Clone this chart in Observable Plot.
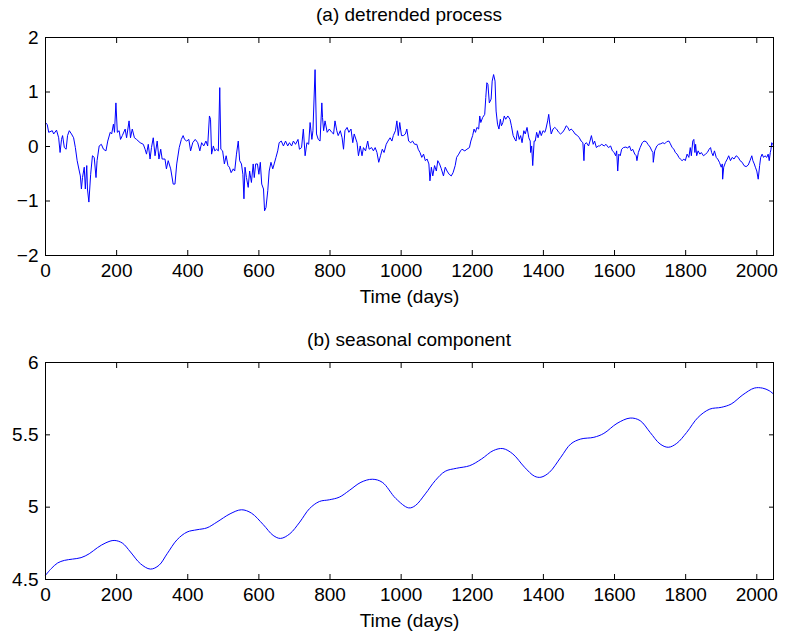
<!DOCTYPE html>
<html>
<head>
<meta charset="utf-8">
<script src="https://cdn.jsdelivr.net/npm/d3@7"></script>
<script src="https://cdn.jsdelivr.net/npm/@observablehq/plot@0.6"></script>
<style>
  html, body { margin: 0; padding: 0; background: #fff; }
  #wrap { position: relative; width: 785px; height: 638px; font-family: "Liberation Sans", Arial, sans-serif; color: #000; }
  .ttl { position: absolute; left: 45px; width: 728px; text-align: center; font-size: 19px; line-height: 22px; }
  .pn { position: absolute; left: 0; }
</style>
</head>
<body>
<div id="wrap">
  <div class="ttl" id="t1" style="top:4px"></div>
  <div class="pn" id="p1" style="top:27px"></div>
  <div class="ttl" id="t2" style="top:329px"></div>
  <div class="pn" id="p2" style="top:352px"></div>
</div>
<script>
// ---- data ----
const xTicks = [0, 200, 400, 600, 800, 1000, 1200, 1400, 1600, 1800, 2000];
const xLabel = "Time (days)";
const topTitle = "(a) detrended process";
const bottomTitle = "(b) seasonal component";
const topYTicks = [-2, -1, 0, 1, 2];
const bottomYTicks = [4.5, 5, 5.5, 6];
const bottomYTickLabels = ["4.5", "5", "5.5", "6"];

const topDays = [
0,5,9,19,23,31,37,41,45,48,53,58,62,67,73,79,84,89,95,98,101,104,109,112,116,118,122,127,132,137,142,145,151,157,163,170,175,182,186,191,194,198,202,207,211,216,224,228,235,239,244,250,256,266,275,280,284,289,294,298,303,308,314,319,324,328,336,340,345,352,359,364,369,376,382,
387,391,397,403,408,414,421,428,434,439,445,451,456,461,464,467,472,476,481,486,490,493,498,503,508,513,517,522,528,532,537,542,546,551,555,558,561,565,570,574,579,584,587,591,596,600,604,608,613,616,620,625,629,634,639,643,648,653,657,663,669,675,681,686,692,697,703,710,714,720,725,730,735,740,744,749,752,758,762,767,772,777,779,
782,786,792,798,805,810,814,819,823,829,834,838,842,848,853,859,864,868,876,880,885,890,894,900,906,910,917,922,927,932,937,942,947,952,958,963,969,974,978,984,988,992,996,1001,1006,1012,1016,1021,1027,1032,1038,1044,1048,1053,1058,1063,1068,1073,1078,1081,1085,1089,1094,1099,1103,1108,1113,1119,1124,1129,1135,1141,1146,1152,1156,1162,
1167,1171,1179,1185,1192,1196,1201,1205,1209,1213,1218,1221,1224,1229,1235,1238,1241,1244,1248,1253,1256,1260,1264,1267,1271,1275,1279,1282,1286,1290,1294,1300,1306,1310,1315,1320,1323,1327,1332,1336,1340,1345,1349,1354,1359,1363,1364,1367,1370,1374,1377,1381,1385,1390,1394,1399,1404,1407,1412,1415,1418,1422,1427,1432,1437,1443,1448,1454,1460,1464,1469,1473,1478,1483,1489,1496,1501,1506,1511,1514,1516,1521,1527,1531,1535,1540,1544,1549,
1554,1558,1564,1571,1576,1583,1589,1594,1599,1603,1606,1609,1612,1616,1620,1625,1632,1637,1642,1647,1651,1657,1661,1663,1667,1672,1678,1683,1689,1694,1700,1705,1708,1709,1713,1719,1724,1730,1736,1741,1747,1753,1757,1762,1767,1771,1776,1781,1785,1790,1795,1799,1804,1809,1813,1816,1820,1823,1826,1828,1831,1835,1840,1844,1850,1856,1861,1866,1870,1873,1877,1881,1886,1890,1895,1900,1903,1904,1907,1912,1917,1921,1926,1931,1936,1942,1948,1953,1959,1964,1970,1976,1981,1986,1989,1993,1996,2000,2004,2008,2011,2015,2019,2023,2028,2032,2035,2038,2040,2042,2045,2047
];
const topValues = [
0.44,0.40,0.26,0.29,0.23,0.30,0.16,-0.11,0.13,0.20,-0.02,-0.05,0.20,0.29,0.23,0.16,-0.02,-0.26,-0.45,-0.54,-0.78,-0.57,-0.38,-0.78,-0.35,-0.78,-1.02,-0.51,-0.17,-0.20,-0.57,-0.26,0.01,0.04,-0.05,-0.08,0.10,0.26,0.23,0.41,0.26,0.80,0.26,0.29,0.13,0.20,0.32,0.16,0.47,0.16,0.32,0.16,0.13,0.07,0.04,-0.05,-0.14,0.04,-0.23,-0.02,0.16,-0.17,0.10,-0.23,-0.05,-0.23,-0.23,-0.41,-0.26,-0.41,-0.69,-0.69,-0.32,-0.02,0.13,
0.20,0.13,0.10,0.13,-0.08,0.07,0.13,0.07,-0.08,0.07,0.01,0.10,0.01,0.56,0.50,-0.14,0.01,-0.08,-0.05,-0.08,1.08,-0.05,-0.08,-0.32,-0.17,-0.35,-0.38,-0.48,-0.41,-0.45,-0.14,0.10,-0.26,-0.32,-0.51,-0.96,-0.38,-0.57,-0.75,-0.45,-0.66,-0.32,-0.57,-0.32,-0.32,-0.51,-0.29,-0.69,-0.78,-1.18,-1.12,-0.81,-0.45,-0.29,-0.41,-0.32,-0.20,-0.08,0.07,0.10,0.01,0.10,0.01,0.07,0.01,0.10,0.04,0.13,-0.05,-0.02,0.32,-0.17,0.07,0.04,0.44,0.13,0.29,1.41,0.23,0.13,0.10,0.80,0.53,
0.29,0.47,0.26,0.32,0.26,0.23,0.47,0.29,0.20,0.29,0.16,-0.05,0.29,0.35,0.26,0.32,0.07,0.23,0.07,-0.17,0.01,-0.17,-0.02,-0.08,0.10,-0.05,-0.02,-0.08,-0.02,-0.11,-0.29,-0.17,-0.05,-0.11,0.04,0.10,0.16,0.10,0.20,0.29,0.47,0.20,0.44,0.20,0.20,0.23,0.32,0.10,0.07,0.10,0.04,0.04,-0.05,-0.11,-0.20,-0.14,-0.26,-0.23,-0.32,-0.63,-0.38,-0.54,-0.35,-0.45,-0.26,-0.32,-0.41,-0.54,-0.38,-0.45,-0.51,-0.54,-0.48,-0.35,-0.20,-0.14,
-0.08,-0.05,-0.08,-0.05,-0.02,0.10,0.20,0.32,0.26,0.35,0.32,0.56,0.44,0.53,0.59,0.90,1.17,1.14,0.80,0.87,1.20,1.32,1.20,0.65,0.41,0.32,0.50,0.38,0.44,0.56,0.50,0.56,0.50,0.38,0.20,0.13,0.10,0.29,0.13,0.20,0.07,0.29,0.23,0.35,0.16,0.10,-0.11,0.01,-0.35,0.10,0.10,0.26,0.16,0.29,0.20,0.29,0.26,0.32,0.47,0.59,0.41,0.23,0.32,0.35,0.32,0.26,0.23,0.26,0.32,0.38,0.35,0.29,0.32,0.29,0.23,0.20,0.16,0.10,0.07,-0.26,0.04,0.07,0.01,0.10,0.20,0.04,0.10,-0.02,
0.01,0.01,0.04,0.01,0.04,-0.02,0.01,-0.08,-0.11,-0.17,-0.08,-0.45,-0.14,-0.17,-0.05,-0.02,-0.01,-0.03,0.01,-0.08,-0.05,-0.14,-0.17,-0.26,-0.11,-0.02,0.07,0.10,0.09,0.04,-0.01,-0.08,-0.11,-0.29,-0.08,0.01,0.04,0.05,0.07,0.05,0.09,0.10,0.05,-0.02,-0.05,-0.11,-0.14,-0.20,-0.23,-0.26,-0.23,-0.26,-0.14,-0.20,-0.02,-0.17,0.10,0.13,-0.11,0.04,-0.17,-0.08,-0.14,-0.11,-0.17,-0.14,-0.11,-0.05,-0.02,-0.11,-0.17,-0.08,-0.20,-0.23,-0.29,-0.38,-0.32,-0.60,-0.38,-0.29,-0.23,-0.17,-0.26,-0.20,-0.23,-0.17,-0.20,-0.26,-0.29,-0.35,-0.37,-0.34,-0.26,-0.17,-0.26,-0.32,-0.38,-0.45,-0.60,-0.35,-0.20,-0.14,-0.20,-0.17,-0.20,-0.14,-0.26,-0.11,-0.05,0.07,0.04,0.01
];

const seasDays = [0,16,34,53,76,100,123,146,170,193,216,239,267,295,319,342,370,398,426,454,482,519,551,579,612,640,661,687,715,742,770,798,826,854,887,919,947,985,1021,1040,1068,1096,1124,1156,1193,1226,1259,1286,1314,1347,1375,1393,1417,1449,1477,1505,1542,1570,1607,1644,1672,1700,1728,1751,1775,1803,1835,1868,1900,1928,1961,1993,2016,2035,2047];
const seasValues = [4.529,4.575,4.614,4.632,4.641,4.651,4.678,4.720,4.754,4.770,4.752,4.690,4.609,4.572,4.598,4.678,4.775,4.828,4.844,4.857,4.897,4.954,4.982,4.959,4.880,4.805,4.784,4.816,4.897,4.989,5.039,5.051,5.069,5.115,5.172,5.193,5.172,5.060,4.995,5.011,5.092,5.184,5.248,5.269,5.287,5.333,5.391,5.405,5.368,5.276,5.214,5.207,5.241,5.345,5.437,5.471,5.483,5.510,5.579,5.616,5.598,5.517,5.437,5.414,5.441,5.517,5.621,5.678,5.690,5.713,5.777,5.823,5.823,5.805,5.782];

// ---- drawing ----
document.getElementById("t1").textContent = topTitle;
document.getElementById("t2").textContent = bottomTitle;
const topData = topDays.map((d, i) => ({day: d, value: topValues[i]}));
const seasData = seasDays.map((d, i) => ({day: d, value: seasValues[i]}));

function panel({data, yDomain, yTicks, yFormat, height, marginBottom, curve}) {
  return Plot.plot({
    width: 785,
    height,
    marginLeft: 45,
    marginRight: 12,
    marginTop: 10,
    marginBottom,
    style: {fontFamily: "'Liberation Sans', Arial, sans-serif", fontSize: "19px", color: "#000", background: "#fff", overflow: "visible"},
    x: {domain: [0, 2047]},
    y: {domain: yDomain},
    marks: [
      Plot.line(data, {x: "day", y: "value", stroke: "#0000ff", strokeWidth: 1, curve}),
      Plot.frame({stroke: "#000", strokeWidth: 1}),
      Plot.axisX({ticks: xTicks, tickSize: -5, tickPadding: 13, tickFormat: d => String(d), label: xLabel, labelAnchor: "center", labelArrow: "none", labelOffset: 47}),
      Plot.axisX({anchor: "top", ticks: xTicks, tickSize: -5, tickFormat: () => "", label: null}),
      Plot.axisY({ticks: yTicks, tickSize: -5, tickPadding: 12, tickFormat: yFormat, label: null}),
      Plot.axisY({anchor: "right", ticks: yTicks, tickSize: -5, tickFormat: () => "", label: null})
    ]
  });
}

document.getElementById("p1").append(panel({
  data: topData, yDomain: [-2, 2], yTicks: topYTicks, yFormat: d => String(d).replace("-", "\u2212"),
  height: 290, marginBottom: 62, curve: "linear"
}));
document.getElementById("p2").append(panel({
  data: seasData, yDomain: [4.5, 6], yTicks: bottomYTicks, yFormat: (d, i) => bottomYTickLabels[i],
  height: 286, marginBottom: 59, curve: "catmull-rom"
}));
</script>
</body>
</html>
